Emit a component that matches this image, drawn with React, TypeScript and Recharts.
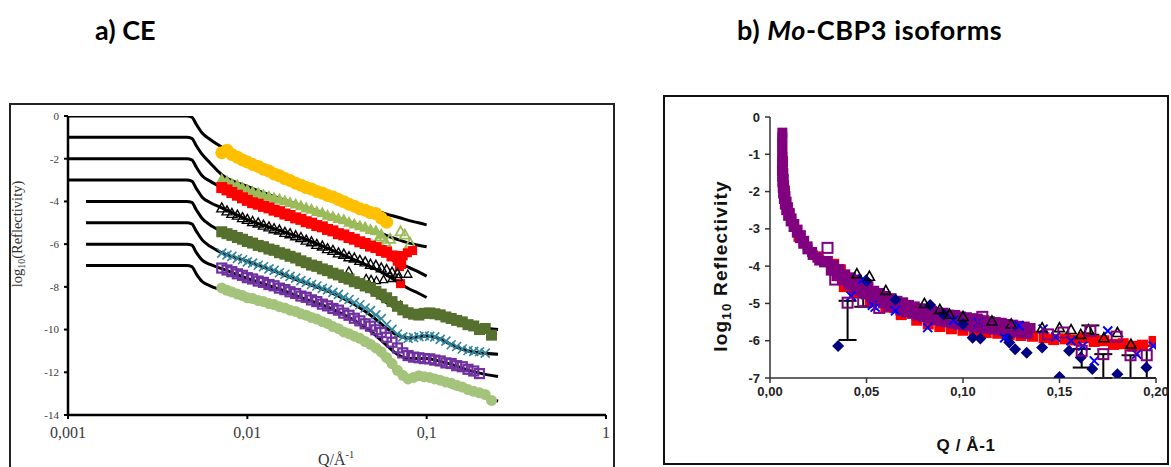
import React from 'react';
import { ComposedChart, Scatter, Line, XAxis, YAxis, ErrorBar } from 'recharts';

// ---------- a) CE: log10(R) against Q on a log axis, eight offset samples ----------
const ceQ = [
  0.0072, 0.0077, 0.0082, 0.0088, 0.0094, 0.01, 0.0107, 0.0115, 0.0123, 0.0132, 0.0141, 0.0151, 0.0162,
  0.0173, 0.0186, 0.0199, 0.0213, 0.0228, 0.0244, 0.0262, 0.028, 0.03, 0.0322, 0.0345, 0.0369, 0.0395,
  0.0424, 0.0454, 0.0486, 0.0521, 0.0558, 0.0598, 0.0641, 0.0687, 0.0736, 0.0788, 0.0845, 0.0905, 0.097,
  0.104, 0.111, 0.119, 0.128, 0.137, 0.147, 0.158, 0.17, 0.183, 0.197, 0.212, 0.23,
];

const ceOrange = [
  -1.72, -1.6, -1.8, -1.93, -2.06, -2.15, -2.27, -2.36, -2.49, -2.58, -2.71, -2.8, -2.93, -3.02, -3.15,
  -3.24, -3.35, -3.42, -3.53, -3.61, -3.72, -3.79, -3.91, -4.01, -4.13, -4.22, -4.34, -4.41, -4.52, -4.57,
  -4.78, -4.97,
];
const ceGreen = [
  -2.95, -3.03, -3.16, -3.21, -3.34, -3.44, -3.52, -3.59, -3.67, -3.74, -3.82, -3.88, -3.96, -4.04, -4.11,
  -4.19, -4.29, -4.35, -4.46, -4.52, -4.63, -4.69, -4.79, -4.84, -4.96, -5.04, -5.13, -5.19, -5.3, -5.36,
  -5.52,
];
const ceRed = [
  -3.35, -3.46, -3.58, -3.71, -3.83, -3.95, -4.06, -4.13, -4.23, -4.3, -4.41, -4.48, -4.59, -4.66, -4.77,
  -4.84, -4.95, -5.02, -5.13, -5.19, -5.31, -5.38, -5.51, -5.57, -5.69, -5.77, -5.89, -5.97, -6.09, -6.16,
  -6.3, -6.38, -6.55, -6.58,
];
const ceBlack = [
  -4.3, -4.44, -4.56, -4.64, -4.76, -4.84, -4.94, -5.01, -5.11, -5.19, -5.28, -5.34, -5.45, -5.51, -5.61,
  -5.69, -5.81, -5.89, -6.01, -6.09, -6.21, -6.29, -6.41, -6.47, -6.59, -6.65, -6.76, -6.83, -6.94, -6.99,
  -7.11, -7.19, -7.31, -7.38,
];
const ceOlive = [
  -5.42, -5.51, -5.59, -5.69, -5.77, -5.88, -5.95, -6.06, -6.12, -6.23, -6.29, -6.4, -6.47, -6.57, -6.65,
  -6.78, -6.87, -6.98, -7.04, -7.16, -7.24, -7.36, -7.44, -7.56, -7.64, -7.76, -7.84, -7.96, -8.04, -8.21,
  -8.34, -8.51, -8.69, -8.91, -9.08, -9.21, -9.28, -9.32, -9.24, -9.22, -9.26, -9.31, -9.41, -9.48, -9.57,
  -9.64, -9.77, -9.83, -10.0, -9.95, -10.26,
];
const ceTeal = [
  -6.42, -6.51, -6.57, -6.67, -6.73, -6.83, -6.89, -6.99, -7.06, -7.16, -7.23, -7.34, -7.41, -7.51, -7.59,
  -7.71, -7.79, -7.89, -7.96, -8.07, -8.14, -8.26, -8.35, -8.49, -8.59, -8.73, -8.84, -8.99, -9.11, -9.31,
  -9.49, -9.76, -9.99, -10.21, -10.34, -10.41, -10.37, -10.33, -10.29, -10.31, -10.34, -10.46, -10.54,
  -10.71, -10.79, -10.91, -10.98, -11.02, -11.04, -11.1,
];
const cePurple = [
  -7.12, -7.21, -7.29, -7.39, -7.46, -7.57, -7.63, -7.73, -7.79, -7.89, -7.95, -8.06, -8.13, -8.23, -8.31,
  -8.43, -8.49, -8.61, -8.69, -8.81, -8.89, -9.01, -9.09, -9.23, -9.33, -9.47, -9.59, -9.73, -9.84, -10.01,
  -10.14, -10.36, -10.59, -10.86, -11.09, -11.22, -11.29, -11.32, -11.36, -11.37, -11.43, -11.47, -11.56,
  -11.59, -11.69, -11.74, -11.86, -11.94, -12.06,
];
const ceLime = [
  -8.05, -8.16, -8.24, -8.34, -8.41, -8.51, -8.55, -8.64, -8.69, -8.78, -8.83, -8.93, -8.99, -9.09, -9.15,
  -9.26, -9.33, -9.44, -9.51, -9.63, -9.71, -9.86, -9.96, -10.11, -10.19, -10.31, -10.41, -10.56, -10.69,
  -10.86, -11.04, -11.31, -11.59, -11.91, -12.14, -12.31, -12.24, -12.16, -12.21, -12.24, -12.31, -12.37,
  -12.46, -12.51, -12.61, -12.69, -12.81, -12.89, -12.96, -13.04, -13.32,
];

// scattered high-Q points of the upper samples
const ceGreenTail = [[0.0535, -5.8], [0.0555, -5.65], [0.059, -5.9], [0.0625, -5.75], [0.0715, -5.4], [0.0755, -5.55], [0.081, -5.95]];
const ceRedTail = [[0.0685, -6.8], [0.0705, -7.05], [0.0715, -7.85], [0.0725, -6.95], [0.074, -6.55], [0.078, -6.4], [0.0835, -6.3]];
const ceBlackTail = [[0.0368, -7.25], [0.046, -7.6], [0.049, -7.65], [0.0525, -7.7], [0.0575, -7.65], [0.064, -7.6], [0.0695, -7.55], [0.0785, -7.4], [0.0715, -8.85]];

// model fits, one per sample
const fitQ = [0.001, 0.00126, 0.0046, 0.0049, 0.0052, 0.0056, 0.0062, 0.0072, 0.01, 0.015, 0.02, 0.03, 0.04, 0.05, 0.06, 0.07, 0.08, 0.09, 0.1, 0.12, 0.14, 0.17, 0.2, 0.25];
const fit0 = [0, 0, 0, -0.05, -0.4, -0.8, -1.1, -1.45, -1.95, -2.6, -3.05, -3.65, -4.1, -4.4, -4.6, -4.75, -4.9, -5.0, -5.1];
const fit1 = [-1, -1, -1, -1.05, -1.4, -1.8, -2.2, -2.75, -3.3, -3.85, -4.2, -4.7, -5.05, -5.35, -5.6, -5.8, -5.95, -6.05, -6.12];
const fit2 = [-2, -2, -2, -2.05, -2.4, -2.8, -3.05, -3.35, -3.9, -4.45, -4.85, -5.4, -5.8, -6.2, -6.55, -6.85, -7.1, -7.3, -7.5];
const fit3 = [-3, -3, -3, -3.05, -3.4, -3.8, -4.05, -4.3, -4.85, -5.35, -5.7, -6.3, -6.75, -7.1, -7.45, -7.8, -8.1, -8.3, -8.5];
const fit4 = [null, -4, -4, -4.05, -4.4, -4.8, -5.1, -5.4, -5.85, -6.45, -6.8, -7.4, -7.85, -8.3, -8.75, -9.1, -9.25, -9.25, -9.2, -9.35, -9.55, -9.75, -9.9, -10.0];
const fit5 = [null, -5, -5, -5.05, -5.4, -5.8, -6.1, -6.4, -6.8, -7.35, -7.75, -8.3, -8.85, -9.4, -9.95, -10.3, -10.4, -10.35, -10.3, -10.45, -10.75, -11.0, -11.1, -11.15];
const fit6 = [null, -6, -6, -6.05, -6.4, -6.75, -6.95, -7.15, -7.6, -8.1, -8.5, -9.05, -9.6, -10.15, -10.75, -11.2, -11.35, -11.35, -11.35, -11.5, -11.65, -11.9, -12.05, -12.2];
const fit7 = [null, -7, -7, -7.05, -7.4, -7.75, -7.95, -8.15, -8.55, -9.0, -9.3, -9.9, -10.35, -10.85, -11.5, -12.05, -12.3, -12.2, -12.25, -12.45, -12.7, -12.9, -13.1, -13.35];

const ceXTicks = [0.001, 0.01, 0.1, 1];
const ceYTicks = [-14, -12, -10, -8, -6, -4, -2, 0];

// ---------- b) Mo-CBP3 isoforms: log10 reflectivity against linear Q ----------
const isoPurpleBand = [
  [0.0064, -0.42], [0.0064, -0.55], [0.0063, -0.68], [0.0064, -0.81], [0.0063, -0.94], [0.0065, -1.07],
  [0.0063, -1.2], [0.0066, -1.33], [0.0062, -1.45], [0.0069, -1.5], [0.0063, -1.6], [0.0071, -1.66],
  [0.0064, -1.75], [0.0073, -1.82], [0.0066, -1.9], [0.0076, -1.97], [0.0068, -2.05], [0.008, -2.12],
  [0.0072, -2.2], [0.0086, -2.27], [0.0077, -2.35], [0.0093, -2.42], [0.0084, -2.5], [0.0101, -2.57],
  [0.0094, -2.65], [0.0112, -2.72], [0.0107, -2.8], [0.0126, -2.87], [0.0122, -2.95], [0.0143, -3.02],
  [0.0139, -3.1], [0.016, -3.17], [0.0155, -3.25], [0.0177, -3.32], [0.0172, -3.4], [0.0195, -3.47],
  [0.0194, -3.55], [0.0218, -3.62], [0.0221, -3.7], [0.0246, -3.77], [0.0255, -3.85], [0.028, -3.9],
  [0.03, -3.86], [0.0315, -4.12], [0.033, -3.97], [0.0345, -4.27], [0.036, -4.08], [0.0375, -4.38],
  [0.039, -4.22], [0.0405, -4.5], [0.042, -4.3], [0.0435, -4.6], [0.045, -4.36], [0.0465, -4.66],
  [0.048, -4.48], [0.0495, -4.76], [0.051, -4.54], [0.0525, -4.82], [0.054, -4.66], [0.0555, -4.94],
  [0.057, -4.72], [0.0585, -5.0], [0.06, -4.8], [0.0615, -5.08], [0.063, -4.86], [0.0645, -5.13],
  [0.066, -4.93], [0.0675, -5.19], [0.069, -4.97], [0.0705, -5.24], [0.072, -5.04], [0.0735, -5.28],
  [0.075, -5.08], [0.0765, -5.33], [0.078, -5.13], [0.0795, -5.37], [0.081, -5.15], [0.0825, -5.41],
  [0.084, -5.2], [0.0855, -5.45], [0.087, -5.24], [0.0885, -5.48], [0.09, -5.25], [0.0915, -5.51],
  [0.093, -5.3], [0.0945, -5.54], [0.096, -5.31], [0.0975, -5.57], [0.099, -5.35], [0.1005, -5.59],
  [0.102, -5.37], [0.1035, -5.62], [0.105, -5.4], [0.1065, -5.64], [0.108, -5.43], [0.1095, -5.66],
  [0.111, -5.45], [0.1125, -5.68], [0.114, -5.48], [0.1155, -5.7], [0.117, -5.5], [0.1185, -5.72],
  [0.12, -5.52], [0.1215, -5.74], [0.123, -5.55], [0.1245, -5.76], [0.126, -5.57], [0.1275, -5.78],
  [0.129, -5.6], [0.1305, -5.8], [0.132, -5.62], [0.1335, -5.82], [0.135, -5.66],
];
const isoPurpleOpen = [
  [0.0298, -3.51], [0.0338, -4.36], [0.0566, -5.12], [0.107, -5.43], [0.11, -5.36], [0.1225, -5.65],
  [0.144, -5.83], [0.152, -5.78], [0.1796, -5.89],
];
// points carrying error bars: [q, log10 R, down, up]
const isoPurpleErr = [
  [0.0402, -4.98, 1.0, 0.05], [0.0483, -4.94, 0.15, 0.1], [0.1615, -6.27, 0.45, 0.05],
  [0.166, -5.74, 0.1, 0.15], [0.1727, -6.36, 0.64, 0.0], [0.1868, -6.39, 0.61, 0.0], [0.1952, -6.39, 0.61, 0.25],
];
const isoRed = [
  [0.0065, -1.2], [0.0075, -2.0], [0.01, -2.6], [0.015, -3.2], [0.025, -3.75], [0.033, -3.95], [0.0365, -4.1],
  [0.0375, -4.35], [0.0385, -4.55], [0.044, -4.7], [0.052, -4.95], [0.06, -5.1], [0.068, -5.3], [0.076, -5.45],
  [0.082, -5.55], [0.088, -5.62], [0.094, -5.68], [0.1, -5.72], [0.106, -5.76], [0.112, -5.78], [0.118, -5.8],
  [0.124, -5.84], [0.13, -5.86], [0.136, -5.88], [0.142, -5.92], [0.147, -5.97], [0.153, -5.95], [0.158, -5.98],
  [0.163, -5.92], [0.168, -6.02], [0.173, -6.0], [0.178, -6.1], [0.183, -6.08], [0.188, -6.15], [0.193, -6.12],
  [0.199, -6.02],
];
const isoNavy = [
  [0.0353, -6.14], [0.05, -4.4], [0.065, -4.9], [0.083, -5.04], [0.09, -5.3], [0.1, -5.55], [0.105, -5.92],
  [0.109, -5.94], [0.123, -5.92], [0.124, -6.05], [0.127, -6.23], [0.133, -6.32], [0.141, -6.18], [0.15, -6.97],
  [0.155, -6.27], [0.161, -6.45], [0.167, -6.76], [0.18, -6.9], [0.195, -6.72],
];
const isoBlue = [
  [0.042, -4.8], [0.048, -4.35], [0.053, -5.05], [0.0545, -5.1], [0.065, -5.2], [0.0817, -5.65], [0.095, -5.45],
  [0.108, -5.5], [0.1216, -5.92], [0.129, -5.6], [0.1415, -5.69], [0.148, -5.9], [0.156, -6.0], [0.162, -6.14],
  [0.168, -6.54], [0.175, -5.74], [0.19, -6.36], [0.1986, -6.14],
];
const isoBlack = [
  [0.045, -4.2], [0.0515, -4.27], [0.06, -4.65], [0.08, -5.0], [0.088, -5.16], [0.093, -5.29], [0.1, -5.35],
  [0.115, -5.47], [0.125, -5.55], [0.141, -5.65], [0.15, -5.65], [0.156, -5.7], [0.161, -5.83], [0.165, -5.7],
  [0.173, -5.92], [0.18, -5.78], [0.187, -6.09],
];

const isoXTicks = [0, 0.05, 0.1, 0.15, 0.2];
const isoYTicks = [-7, -6, -5, -4, -3, -2, -1, 0];

// ---------- helpers ----------
type Pt = { q: number; r: number; err?: number[] };

const onGrid = (qs: number[], rs: (number | null)[]): Pt[] =>
  rs
    .map((r, i) => (r == null ? null : { q: qs[i], r }))
    .filter((p): p is Pt => p !== null);

const fromPairs = (list: number[][]): Pt[] => list.map(([q, r]) => ({ q, r }));

type Kind = 'circle' | 'square' | 'triangle' | 'cross' | 'diamond';

function marker(kind: Kind, size: number, color: string, open = false, sw = 1.5) {
  return (props: any) => {
    const { cx, cy } = props;
    if (cx == null || cy == null) return <g />;
    const h = size / 2;
    const fill = open ? 'none' : color;
    const stroke = open ? color : 'none';
    switch (kind) {
      case 'circle':
        return <circle cx={cx} cy={cy} r={h} fill={fill} stroke={stroke} strokeWidth={sw} />;
      case 'square':
        return <rect x={cx - h} y={cy - h} width={size} height={size} fill={fill} stroke={stroke} strokeWidth={sw} />;
      case 'triangle':
        return (
          <polygon
            points={`${cx},${cy - h} ${cx + h},${cy + h * 0.8} ${cx - h},${cy + h * 0.8}`}
            fill={fill}
            stroke={stroke}
            strokeWidth={sw}
          />
        );
      case 'diamond':
        return (
          <polygon
            points={`${cx},${cy - h} ${cx + h},${cy} ${cx},${cy + h} ${cx - h},${cy}`}
            fill={color}
          />
        );
      default:
        return (
          <path
            d={`M${cx - h},${cy - h}L${cx + h},${cy + h}M${cx - h},${cy + h}L${cx + h},${cy - h}`}
            stroke={color}
            strokeWidth={sw}
            fill="none"
          />
        );
    }
  };
}

const commaNum = (v: number) => String(v).replace('.', ',');

const ceSeries = [
  { id: 'orange', data: onGrid(ceQ, ceOrange), shape: marker('circle', 13, '#FFC000') },
  { id: 'green', data: onGrid(ceQ, ceGreen), shape: marker('triangle', 12, '#9BBB59') },
  { id: 'greenTail', data: fromPairs(ceGreenTail), shape: marker('triangle', 10, '#9BBB59', true, 1.8) },
  { id: 'red', data: onGrid(ceQ, ceRed), shape: marker('square', 11, '#FF0000') },
  { id: 'redTail', data: fromPairs(ceRedTail), shape: marker('square', 9, '#FF0000') },
  { id: 'black', data: onGrid(ceQ, ceBlack), shape: marker('triangle', 10, '#000', true, 1.4) },
  { id: 'blackTail', data: fromPairs(ceBlackTail), shape: marker('triangle', 8, '#000', true, 1.3) },
  { id: 'olive', data: onGrid(ceQ, ceOlive), shape: marker('square', 11, '#56702E') },
  { id: 'teal', data: onGrid(ceQ, ceTeal), shape: marker('cross', 9, '#31859C', false, 1.6) },
  { id: 'purple', data: onGrid(ceQ, cePurple), shape: marker('square', 9, '#7030A0', true, 2.2) },
  { id: 'lime', data: onGrid(ceQ, ceLime), shape: marker('circle', 11, '#A4C47C') },
];

const ceFits = [fit0, fit1, fit2, fit3, fit4, fit5, fit6, fit7].map((f) => onGrid(fitQ, f));

const isoSeries = [
  { id: 'red', data: fromPairs(isoRed), shape: marker('square', 11, '#FF0000') },
  { id: 'band', data: fromPairs(isoPurpleBand), shape: marker('square', 10, '#800080') },
  { id: 'navy', data: fromPairs(isoNavy), shape: marker('diamond', 12, '#000080') },
  { id: 'blue', data: fromPairs(isoBlue), shape: marker('cross', 9, '#0000FF', false, 2) },
  { id: 'black', data: fromPairs(isoBlack), shape: marker('triangle', 10, '#000', true, 1.6) },
  { id: 'open', data: fromPairs(isoPurpleOpen), shape: marker('square', 10, '#800080', true, 2) },
];

const isoErrData: Pt[] = isoPurpleErr.map(([q, r, lo, hi]) => ({ q, r, err: [lo, hi] }));

const serif = "'Liberation Serif', 'Times New Roman', serif";
const sans = "'Liberation Sans', Arial, sans-serif";

function CePanel() {
  return (
    <ComposedChart width={620} height={363} margin={{ top: 12, right: 14, bottom: 0, left: 10 }}>
      <XAxis
        dataKey="q"
        type="number"
        scale="log"
        domain={[0.001, 1]}
        ticks={ceXTicks}
        interval={0}
        allowDataOverflow
        tickFormatter={commaNum}
        height={52}
        tickSize={4}
        tickMargin={8}
        axisLine={{ stroke: '#000', strokeWidth: 2.5 }}
        tickLine={{ stroke: '#000', strokeWidth: 2 }}
        tick={{ fontFamily: serif, fontSize: 16, fill: '#3a3a3a' }}
      />
      <YAxis
        type="number"
        domain={[-14, 0]}
        ticks={ceYTicks}
        interval={0}
        allowDataOverflow
        width={58}
        tickSize={4}
        tickMargin={5}
        axisLine={{ stroke: '#000', strokeWidth: 2.5 }}
        tickLine={{ stroke: '#000', strokeWidth: 2 }}
        tick={{ fontFamily: serif, fontSize: 11, fill: '#3a3a3a' }}
      />
      {ceSeries.map((s) => (
        <Scatter key={s.id} data={s.data} dataKey="r" shape={s.shape} isAnimationActive={false} />
      ))}
      {ceFits.map((f, i) => (
        <Line
          key={`fit${i}`}
          data={f}
          dataKey="r"
          type="monotone"
          stroke="#000"
          strokeWidth={3}
          dot={false}
          activeDot={false}
          isAnimationActive={false}
        />
      ))}
    </ComposedChart>
  );
}

function IsoPanel() {
  return (
    <ComposedChart width={510} height={368} margin={{ top: 21, right: 18, bottom: 0, left: 70 }}>
      <XAxis
        dataKey="q"
        type="number"
        domain={[0, 0.2]}
        ticks={isoXTicks}
        interval={0}
        allowDataOverflow
        tickFormatter={(v: number) => v.toFixed(2).replace('.', ',')}
        height={86}
        tickSize={5}
        tickMargin={4}
        axisLine={{ stroke: '#333', strokeWidth: 1.5 }}
        tickLine={{ stroke: '#333', strokeWidth: 1.5 }}
        tick={{ fontFamily: sans, fontSize: 13, fontWeight: 700, fill: '#222' }}
      />
      <YAxis
        type="number"
        domain={[-7, 0]}
        ticks={isoYTicks}
        interval={0}
        allowDataOverflow
        width={36}
        tickSize={5}
        tickMargin={5}
        axisLine={{ stroke: '#333', strokeWidth: 1.5 }}
        tickLine={{ stroke: '#333', strokeWidth: 1.5 }}
        tick={{ fontFamily: sans, fontSize: 13, fontWeight: 700, fill: '#222' }}
      />
      {isoSeries.map((s) => (
        <Scatter key={s.id} data={s.data} dataKey="r" shape={s.shape} isAnimationActive={false} />
      ))}
      <Scatter data={isoErrData} dataKey="r" shape={marker('square', 10, '#800080', true, 2)} isAnimationActive={false}>
        <ErrorBar dataKey="err" direction="y" width={9} stroke="#000" strokeWidth={2} />
      </Scatter>
    </ComposedChart>
  );
}

const abs = (left: number, top: number, extra: React.CSSProperties = {}): React.CSSProperties => ({
  position: 'absolute',
  left,
  top,
  ...extra,
});

const titleFont: React.CSSProperties = {
  fontFamily: 'Lato, sans-serif',
  fontWeight: 700,
  fontSize: 27,
  lineHeight: '30px',
  color: '#000',
  whiteSpace: 'nowrap',
};

export default function App() {
  return (
    <div style={{ position: 'absolute', left: 0, top: 0, width: 1171, height: 467, overflow: 'hidden', background: '#fff' }}>
      <div style={abs(95, 15, titleFont)}>a) CE</div>
      <div style={abs(737, 15, { ...titleFont, letterSpacing: 0.6 })}>
        b) <i>Mo</i>-CBP3 isoforms
      </div>

      <div style={abs(9, 103, { width: 606, height: 380, border: '2px solid #222', boxSizing: 'border-box' })} />
      <div style={abs(0, 104)}>
        <CePanel />
      </div>
      <div
        style={abs(18, 234, {
          transform: 'translate(-50%, -50%) rotate(-90deg)',
          fontFamily: serif,
          fontSize: 14.5,
          color: '#333',
          whiteSpace: 'nowrap',
        })}
      >
        log<sub style={{ fontSize: '0.68em' }}>10</sub>(Reflectivity)
      </div>
      <div style={abs(336, 459, { transform: 'translate(-50%, -50%)', fontFamily: serif, fontSize: 16, color: '#333', whiteSpace: 'nowrap' })}>
        Q/Å<sup style={{ fontSize: '0.65em' }}>-1</sup>
      </div>

      <div style={abs(663, 95, { width: 506, height: 370, border: '2px solid #111', boxSizing: 'border-box' })} />
      <div style={abs(664, 96)}>
        <IsoPanel />
      </div>
      <div
        style={abs(722, 266, {
          transform: 'translate(-50%, -50%) rotate(-90deg)',
          fontFamily: sans,
          fontWeight: 700,
          fontSize: 19,
          letterSpacing: 1.2,
          color: '#111',
          whiteSpace: 'nowrap',
        })}
      >
        log<sub style={{ fontSize: '0.7em' }}>10</sub> Reflectivity
      </div>
      <div style={abs(966, 446, { transform: 'translate(-50%, -50%)', fontFamily: sans, fontWeight: 700, fontSize: 17, letterSpacing: 0.6, color: '#111', whiteSpace: 'nowrap' })}>
        Q / Å-1
      </div>
    </div>
  );
}
